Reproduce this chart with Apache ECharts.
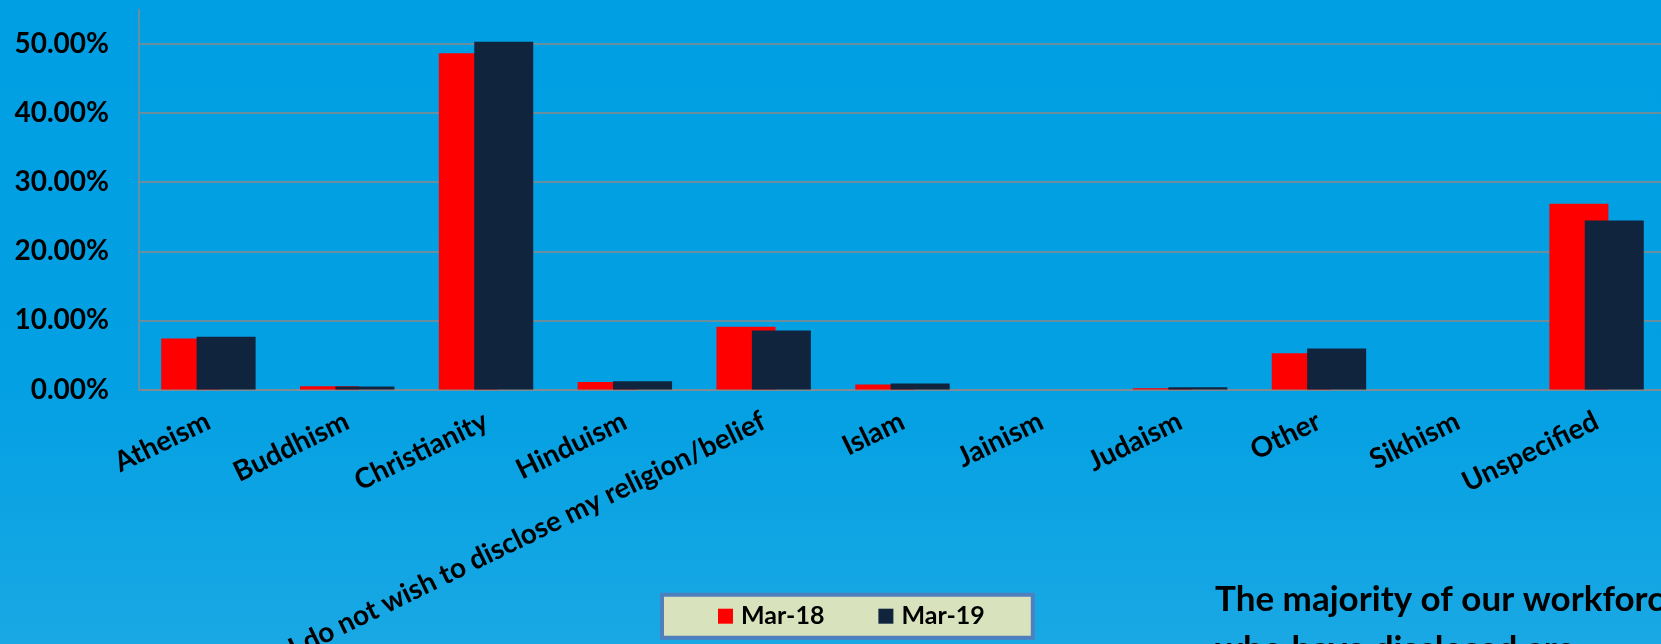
<!DOCTYPE html>
<html>
<head>
<meta charset="utf-8">
<title>Religion / belief of workforce</title>
<script src="https://cdn.jsdelivr.net/npm/echarts@6/dist/echarts.min.js"></script>
<style>
  html, body { margin: 0; padding: 0; }
  #chart { width: 1661px; height: 644px; }
</style>
</head>
<body>
<div id="chart"></div>
<script>
// Categories along the x axis
const categories = [
  'Atheism', 'Buddhism', 'Christianity', 'Hinduism',
  'I do not wish to disclose my religion/belief', 'Islam', 'Jainism',
  'Judaism', 'Other', 'Sikhism', 'Unspecified'
];

// Share of workforce (%) per category
const seriesNames = ['Mar-18', 'Mar-19'];
const mar18 = [7.38, 0.48, 48.65, 1.10, 9.07, 0.72, 0.00, 0.19, 5.26, 0.00, 26.88];
const mar19 = [7.62, 0.45, 50.33, 1.20, 8.54, 0.87, 0.00, 0.33, 5.93, 0.00, 24.47];

// Value axis range
const yMin = 0;
const yMax = 55;
const yStep = 10;

const noteLines = ['The majority of our workforce', 'who have disclosed are'];

const chart = echarts.init(document.getElementById('chart'), null, { renderer: 'canvas' });

const FONT = 'Lato';

chart.setOption({
  backgroundColor: {
    type: 'linear', x: 0, y: 0, x2: 0, y2: 1,
    colorStops: [
      { offset: 0, color: '#009fe3' },
      { offset: 0.6, color: '#03a0e3' },
      { offset: 1, color: '#19a8e4' }
    ]
  },
  animation: false,
  grid: {
    left: 139,
    top: 9.5,
    width: 1527,
    height: 380,
    containLabel: false,
    outerBoundsMode: 'none'
  },
  legend: {
    data: seriesNames,
    left: 662,
    top: 594.7,
    orient: 'horizontal',
    icon: 'rect',
    itemWidth: 15,
    itemHeight: 15,
    itemGap: 54,
    padding: [9, 48, 9, 56],
    backgroundColor: '#d8e3bd',
    borderColor: '#4f80bd',
    borderWidth: 4,
    textStyle: {
      fontFamily: FONT,
      fontWeight: 'bold',
      fontSize: 25,
      lineHeight: 24,
      color: '#000',
      padding: [0, 0, 0, 3]
    }
  },
  xAxis: {
    type: 'category',
    data: categories,
    axisLine: { show: true, lineStyle: { color: '#8a8a8a', width: 1.5 } },
    axisTick: { show: false },
    axisLabel: {
      interval: 0,
      rotate: 26,
      margin: 30,
      fontFamily: FONT,
      fontWeight: 'bold',
      fontSize: 28,
      color: '#000'
    }
  },
  yAxis: {
    type: 'value',
    min: yMin,
    max: yMax,
    interval: yStep,
    axisLine: { show: true, lineStyle: { color: '#8a8a8a', width: 1.5 } },
    axisTick: { show: false },
    splitLine: {
      show: true,
      showMaxLine: false,
      lineStyle: { color: '#8a8a8a', width: 1.5 }
    },
    axisLabel: {
      showMaxLabel: false,
      margin: 30,
      fontFamily: FONT,
      fontWeight: 'bold',
      fontSize: 28,
      color: '#000',
      formatter: v => (v === yMax ? '' : v.toFixed(2) + '%')
    }
  },
  series: [
    {
      name: seriesNames[0],
      type: 'bar',
      data: mar18,
      barWidth: 59,
      barGap: '-40%',
      itemStyle: { color: '#ff0000' }
    },
    {
      name: seriesNames[1],
      type: 'bar',
      data: mar19,
      barWidth: 59,
      barGap: '-40%',
      itemStyle: { color: '#10243e' }
    }
  ],
  graphic: [
    {
      type: 'text',
      left: 1215,
      top: 575,
      silent: true,
      style: {
        text: noteLines.join('\n'),
        font: 'bold 35px Lato',
        fill: '#000',
        lineHeight: 50
      }
    }
  ]
});
</script>
</body>
</html>
